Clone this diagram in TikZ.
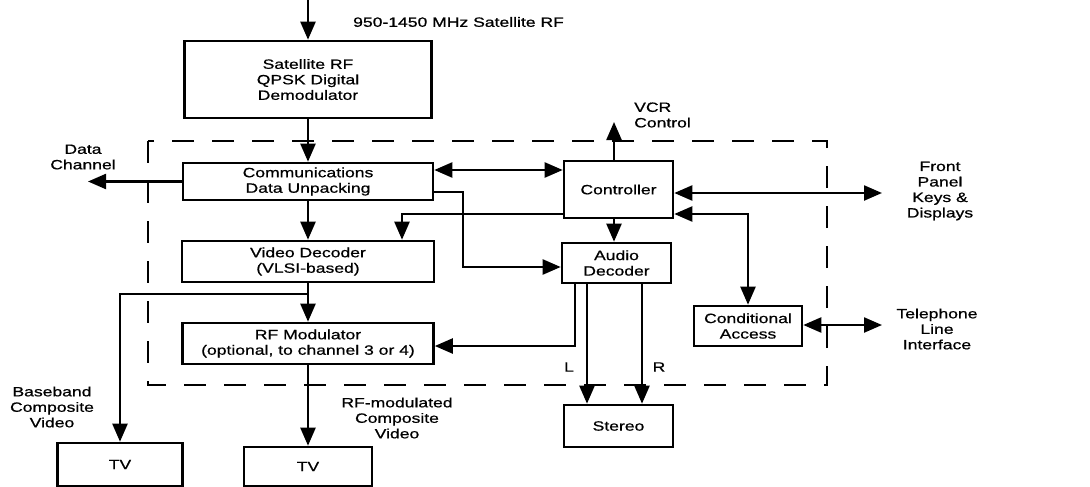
\documentclass[tikz,border=0pt]{standalone}
\usepackage{fontspec}
\setmainfont[FakeStretch=1.3,FakeBold=0.7]{Liberation Sans}
\usetikzlibrary{arrows.meta}
\begin{document}
\begin{tikzpicture}[x=1pt,y=-1pt,
  font=\fontsize{13.5}{15.5}\selectfont,
  blk/.style={draw, line width=2.6pt, align=center, inner sep=0pt},
  lbl/.style={align=center, inner sep=0pt},
  tip/.tip={Triangle[length=18pt,width=15pt]},
  arr/.style={line width=2.3pt, -tip},
  darr/.style={line width=2.3pt, tip-tip},
  dashbox/.style={line width=2.5pt, dash pattern=on 22pt off 18pt}]
\useasboundingbox (0,0) rectangle (1090,487);

% dashed enclosure
\draw[dashbox] (148,141) rectangle (827,385);

% blocks
\node[blk, minimum width=247pt, minimum height=77pt] (dem) at (308,79.5) {Satellite RF\\QPSK Digital\\Demodulator};
\node[blk, minimum width=250pt, minimum height=37pt] (comm) at (308,181.5) {Communications\\Data Unpacking};
\node[blk, minimum width=252pt, minimum height=41pt] (vid) at (308,261.5) {Video Decoder\\(VLSI-based)};
\node[blk, minimum width=251pt, minimum height=41pt] (rf) at (308,343.5) {RF Modulator\\(optional, to channel 3 or 4)};
\node[blk, minimum width=109pt, minimum height=57pt] (ctrl) at (618.5,189.5) {Controller};
\node[blk, minimum width=109pt, minimum height=40pt] (aud) at (616.5,263) {Audio\\Decoder};
\node[blk, minimum width=108pt, minimum height=40pt] (ca) at (748,326) {Conditional\\Access};
\node[blk, minimum width=109pt, minimum height=42pt] (st) at (618.5,426) {Stereo};
\node[blk, minimum width=125pt, minimum height=43pt] (tv1) at (120,464.5) {TV};
\node[blk, minimum width=128pt, minimum height=39pt] (tv2) at (308,466.5) {TV};

% free ends
\coordinate (in) at (308,0);
\coordinate (dc) at (88,181.5);
\coordinate (vcr) at (614,122);
\coordinate (fp) at (882,193);
\coordinate (tel) at (882,325);

% labels
\node[lbl, anchor=west] (inl) at (353,22) {950-1450 MHz Satellite RF};
\node[lbl] (dcl) at (83,157) {Data\\Channel};
\node[lbl, align=left, anchor=west] (vcrl) at (634,115) {VCR\\Control};
\node[lbl] (fpl) at (940,191) {Front\\Panel\\Keys \&\\Displays};
\node[lbl] (tell) at (937,329) {Telephone\\Line\\Interface};
\node[lbl] (ll) at (569,367) {L};
\node[lbl] (rl) at (659,367) {R};
\node[lbl] (bbl) at (52,407) {Baseband\\Composite\\Video};
\node[lbl] (rfl) at (397,418) {RF-modulated\\Composite\\Video};

% connectors
\draw[arr] (in) -- (in |- dem.north);
\draw[arr] (dem) -- (comm);
\draw[arr] (comm) -- (vid);
\draw[arr] (vid) -- (rf);
\draw[arr] (rf) -- (tv2);
\draw[arr] (vid.south |- 0,294) -| (tv1.north);
\draw[arr] (comm.west) -- (dc);
\draw[darr] (comm.east |- 0,170) -- (ctrl.west |- 0,170);
\draw[arr] (comm.east |- 0,192) -- (463,192) |- (aud.west |- 0,267);
\draw[arr] (ctrl.west |- 0,214) -| (vid.north -| 402,0);
\draw[arr] (ctrl.north -| vcr) -- (vcr);
\draw[arr] (ctrl.south -| 614,0) -- (aud.north -| 614,0);
\draw[darr] (ctrl.east |- fp) -- (fp);
\draw[darr] (ctrl.east |- 0,214) -| (ca.north);
\draw[darr] (ca.east |- tel) -- (tel);
\draw[arr] (aud.south -| 575,0) |- (rf.east |- 0,346);
\draw[arr] (aud.south -| 587,0) -- (st.north -| 587,0);
\draw[arr] (aud.south -| 642,0) -- (st.north -| 642,0);
\end{tikzpicture}
\end{document}
